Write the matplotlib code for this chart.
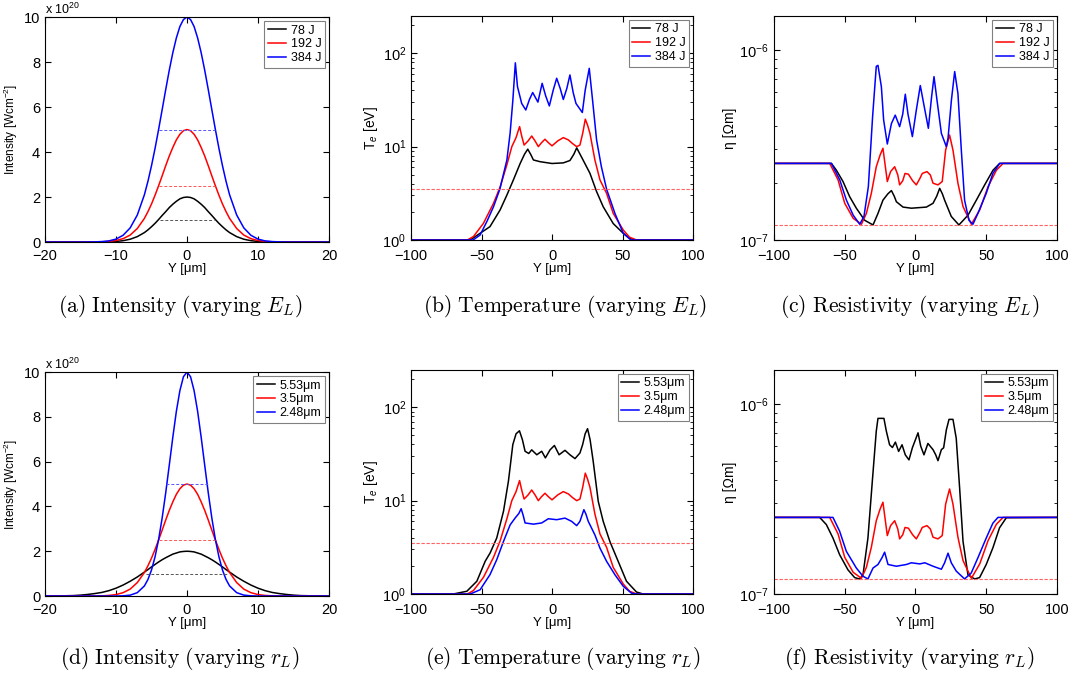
import numpy as np
import matplotlib
matplotlib.use('Agg')
import matplotlib.pyplot as plt
from matplotlib.ticker import LogLocator, NullFormatter

plt.rcParams['font.family'] = ['Liberation Sans', 'DejaVu Sans']
plt.rcParams['mathtext.fontset'] = 'custom'
plt.rcParams['mathtext.rm'] = 'Liberation Sans'
plt.rcParams['mathtext.it'] = 'Liberation Sans:italic'
plt.rcParams['font.size'] = 9

# ---------------- data ----------------
# intensity profiles [1e20 W/cm^2]
y_int = [-20, -19, -18, -17, -16, -15, -14, -13, -12, -11, -10, -9, -8, -7,
         -6, -5.5, -5, -4.5, -4, -3.5, -3, -2.5, -2, -1.5, -1, -0.5, 0, 0.5, 1, 1.5, 2, 2.5, 3, 3.5, 4, 4.5, 5, 5.5, 6,
         7, 8, 9, 10, 11, 12, 13, 14, 15, 16, 17, 18, 19, 20]
I_78J = [0, 0, 0, 0, 0, 0, 0.0004, 0.0013, 0.004, 0.011, 0.026, 0.06, 0.125, 0.24,
         0.42, 0.54, 0.68, 0.83, 1.0, 1.18, 1.35, 1.53, 1.68, 1.81, 1.92, 1.98, 2.0, 1.98, 1.92, 1.81, 1.68, 1.53,
         1.35, 1.18, 1.0, 0.83, 0.68, 0.54, 0.42,
         0.24, 0.125, 0.06, 0.026, 0.011, 0.004, 0.0013, 0.0004, 0, 0, 0, 0, 0, 0]
I_192J = [0, 0, 0, 0, 0, 0, 0.001, 0.003, 0.01, 0.026, 0.066, 0.15, 0.31, 0.60,
          1.05, 1.35, 1.69, 2.08, 2.5, 2.94, 3.39, 3.82, 4.20, 4.54, 4.79, 4.95, 5.0, 4.95, 4.79, 4.54, 4.20, 3.82,
          3.39, 2.94, 2.5, 2.08, 1.69, 1.35, 1.05,
          0.60, 0.31, 0.15, 0.066, 0.026, 0.01, 0.003, 0.001, 0, 0, 0, 0, 0, 0]
I_384J = [0, 0, 0, 0, 0, 0, 0.002, 0.007, 0.02, 0.05, 0.13, 0.30, 0.63, 1.20,
          2.10, 2.70, 3.39, 4.16, 5.0, 5.88, 6.77, 7.63, 8.41, 9.07, 9.58, 9.89, 10.0, 9.89, 9.58, 9.07, 8.41, 7.63,
          6.77, 5.88, 5.0, 4.16, 3.39, 2.70, 2.10,
          1.20, 0.63, 0.30, 0.13, 0.05, 0.02, 0.007, 0.002, 0, 0, 0, 0, 0, 0]
I_553 = [0.002, 0.004, 0.007, 0.013, 0.02, 0.04, 0.07, 0.11, 0.16, 0.24, 0.35, 0.49, 0.66, 0.85,
         1.07, 1.18, 1.30, 1.41, 1.52, 1.62, 1.71, 1.79, 1.87, 1.92, 1.97, 1.99, 2.0, 1.99, 1.97, 1.92, 1.87, 1.79,
         1.71, 1.62, 1.52, 1.41, 1.30, 1.18, 1.07,
         0.85, 0.66, 0.49, 0.35, 0.24, 0.16, 0.11, 0.07, 0.04, 0.02, 0.013, 0.007, 0.004, 0.002]
I_350 = I_192J
I_248 = [0, 0, 0, 0, 0, 0, 0, 0, 0, 0, 0, 0.01, 0.04, 0.15,
         0.45, 0.74, 1.16, 1.75, 2.52, 3.48, 4.60, 5.83, 7.08, 8.24, 9.17, 9.79, 10.0, 9.79, 9.17, 8.24, 7.08, 5.83,
         4.60, 3.48, 2.52, 1.75, 1.16, 0.74, 0.45,
         0.15, 0.04, 0.01, 0, 0, 0, 0, 0, 0, 0, 0, 0, 0, 0]

# half maximum levels and half widths of the dashed markers
hm_a = [1.0, 2.5, 5.0]
hw_a = [3.8, 4.0, 4.0]
hm_d = [1.0, 2.5, 5.0]
hw_d = [5.8, 4.0, 2.9]

# electron temperature [eV]
x_Te_78 = [-100, -58, -51, -44, -36.8, -32, -27.4, -22.6, -19.5, -17.2, -15, -13.2, -8.5, 0, 8, 12.7, 15.5, 17.5,
           19.5, 22, 26.9, 31.6, 36.3, 43.4, 50.5, 55, 59, 100]
Te_78 = [1, 1, 1.18, 1.39, 2.1, 3.03, 4.4, 6.6, 8.3, 9.4, 8.2, 7.2, 6.9, 6.6, 6.7, 7.1, 8.3, 9.7,
         8.5, 7.2, 5.18, 3.3, 2.27, 1.5, 1.18, 1.04, 1, 1]
x_Te_192 = [-100, -60, -55.7, -48.6, -41.5, -36.8, -32, -28.5, -25.5, -23, -21.5, -19.8, -17, -14.4, -12, -9.7, -7.5,
            -5, -2.5, 0, 4, 8, 11.6, 14.5, 17.5, 19.8, 21.8, 23.6, 25.2, 26.9, 30.4, 34, 38.7, 43.4, 50.5, 55, 60, 100]
Te_192 = [1, 1, 1.09, 1.51, 2.47, 3.7, 6.4, 10, 12.5, 16.4, 13, 10.4, 11.5, 13, 11.5, 10, 11,
          12, 11, 10.2, 11.5, 12.5, 11.8, 10.8, 10, 10.4, 14, 19.7, 17, 13.9, 7.2, 4.4, 3.16, 1.93, 1.28, 1.07, 1, 1]
x_Te_384 = [-100, -56, -51, -46, -41.5, -37, -32, -29.7, -27.8, -26, -24.5, -21.5, -18.6, -16, -13.7, -11.5, -10, -7,
            -4.5, -1.9, 0.8, 3.3, 5.8, 8, 10.5, 12.7, 15, 17, 21.5, 23.5, 26.4, 28.8, 31.6, 35, 38.7, 44.6, 50.5, 56, 100]
Te_384 = [1, 1, 1.13, 1.6, 2.27, 3.5, 7.2, 14, 31, 79, 44, 29, 24.7, 32, 38, 33, 30, 47.7,
          35, 27.3, 40, 54, 42, 32, 42, 58.6, 38, 29, 23.2, 40, 69, 31, 11.8, 6.1, 3.5, 1.93, 1.18, 1, 1]
x_Te_553 = [-100, -70, -60.4, -53.3, -47.4, -43.9, -39.2, -34.4, -30.9, -27.8, -25.5, -23.1, -21, -19.1, -16.5, -14.4,
            -10.8, -7.3, -4.7, -1.4, 1.7, 5, 9.2, 12.7, 16.3, 19.8, 21.7, 23.5, 25.2, 27, 29.2, 32.8, 36.3, 41, 46.9,
            52.8, 59.9, 64.6, 100]
Te_553 = [1, 1, 1.07, 1.37, 2.24, 2.75, 3.98, 7.7, 16.2, 39.8, 52, 56, 45, 33.8, 32, 35,
          31, 33.8, 28.7, 35, 39, 31, 34.6, 31, 28.2, 32.4, 39.8, 52, 59, 45, 26.4, 9.8, 6, 3.66, 2.24,
          1.37, 1.05, 1, 1]
x_Te_248 = [-100, -58, -51, -44, -39.2, -34.4, -29.7, -26.2, -23.5, -21.9, -20.5, -19.1, -13.2, -7.3, -2.6, 3.3, 9.2,
            13.9, 17.5, 19.8, 22.6, 24, 25.7, 30.4, 34, 38.7, 44.6, 50.5, 56.4, 60, 100]
Te_248 = [1, 1, 1.11, 1.61, 2.33, 3.66, 5.5, 6.5, 7.3, 8.2, 7, 5.77, 5.6, 5.77, 6.4, 6.25, 6.5,
          6, 5.4, 6, 8, 7.2, 6, 4.3, 3.1, 2.24, 1.61, 1.21, 1.02, 1, 1]
x_Te_350, Te_350 = x_Te_192, Te_192
Te_ref = 3.5

# resistivity [1e-7 Ohm m]
x_eta_78 = [-100, -59.4, -55.9, -51.2, -46.5, -41.8, -35.9, -30, -26.5, -23, -19.5, -17, -15, -13.5, -8.8, -2.9, 7.7,
            12.4, 15, 17.1, 19, 20.6, 25.3, 30.7, 37.1, 43, 48.9, 54.8, 59.5, 100]
eta_78 = [2.53, 2.53, 2.33, 2.03, 1.69, 1.47, 1.27, 1.2, 1.38, 1.62, 1.75, 1.82, 1.7, 1.59, 1.49, 1.47, 1.49,
          1.56, 1.7, 1.87, 1.75, 1.62, 1.33, 1.2, 1.35, 1.62, 1.95, 2.33, 2.53, 2.53]
x_eta_192 = [-100, -60.6, -54.7, -50, -44, -38.2, -34.7, -31.2, -27.7, -25, -23, -21.5, -19.9, -17.6, -14.7, -12.5,
             -11.2, -9, -7.4, -5, -2, 0.6, 3, 4.8, 8.1, 10.5, 12.4, 15.9, 18.9, 21.3, 24.1, 26.5, 30, 33.6, 39.5,
             45.4, 51.3, 57.2, 61.9, 100]
eta_192 = [2.53, 2.53, 2.07, 1.56, 1.3, 1.21, 1.38, 1.76, 2.43, 2.8, 3.04, 2.5, 2.03, 2.29, 2.43, 2.2,
           1.95, 2.05, 2.24, 2.22, 2.05, 1.95, 2.1, 2.24, 2.29, 2.2, 1.99, 1.95, 2.03, 2.97, 3.57, 2.97, 1.99, 1.5, 1.21,
           1.44, 1.91, 2.33, 2.53, 2.53]
x_eta_384 = [-100, -59.4, -53.5, -48.8, -44, -39.4, -36.4, -33.3, -30.3, -27.7, -26.5, -24.1, -22.5, -19.9, -17, -14.3,
             -11.2, -9, -7.2, -5.3, -2.2, 0.6, 3.4, 6.2, 9.1, 11.4, 13.1, 15.2, 18.3, 21.8, 23, 25.4, 27.7, 30, 32.4,
             34.7, 37.8, 40.6, 44.1, 50, 54.7, 59.5, 100]
eta_384 = [2.53, 2.53, 2.07, 1.62, 1.35, 1.21, 1.33, 1.91, 4.46, 8.2, 8.3, 6.4, 4.28, 3.2, 4.1, 4.54,
           3.95, 4.6, 5.85, 4.6, 3.5, 4.83, 6.5, 5.03, 3.87, 5.68, 7.24, 5.45, 3.64, 3.1, 3.43, 5.45, 7.7, 5.9, 2.97,
           1.62, 1.27, 1.21, 1.38, 1.76, 2.24, 2.53, 2.53]
x_eta_553 = [-100, -67.7, -63, -58.3, -53.6, -47.7, -43, -39.5, -37.1, -33.6, -30.5, -27.7, -26.5, -22.3, -20.6, -18.3,
             -16.3, -14.2, -11.9, -9.5, -7.2, -4.6, -2.2, 1.8, 3.7, 6, 8.8, 12.4, 14.3, 15.9, 18.3, 19.9, 21.8, 23.7,
             26.5, 28.8, 31.2, 33.6, 37.1, 41.8, 45.3, 50, 54.7, 59.4, 64.2, 100]
eta_553 = [2.53, 2.53, 2.32, 1.97, 1.61, 1.34, 1.22, 1.2, 1.26, 1.97, 3.92, 7.2, 8.4, 8.4, 7.2, 6.1,
           5.9, 6.3, 5.63, 6.1, 5.4, 5.08, 5.88, 7.05, 6.0, 5.4, 6.2, 5.75, 5.4, 5.03, 5.75, 5.88, 7.3, 8.3,
           8.3, 6.6, 3.61, 1.89, 1.26, 1.2, 1.22, 1.43, 1.75, 2.23, 2.52, 2.53]
x_eta_248 = [-100, -58.3, -53.6, -48.9, -41.8, -37.1, -33.6, -30, -26.5, -23.7, -21.8, -19.4, -13.5, -6.4, -2.9, 3,
             6.6, 12.4, 18.3, 20.6, 23, 25.3, 28.8, 34.7, 39.4, 44.1, 50, 54.7, 58.3, 100]
eta_248 = [2.53, 2.53, 2.14, 1.68, 1.37, 1.24, 1.2, 1.37, 1.43, 1.55, 1.66, 1.43, 1.4, 1.43, 1.46, 1.44,
           1.46, 1.4, 1.35, 1.46, 1.64, 1.46, 1.32, 1.2, 1.29, 1.55, 1.97, 2.36, 2.53, 2.53]
x_eta_350, eta_350 = x_eta_192, eta_192
eta_ref = 1.2

labels_E = ['78 J', '192 J', '384 J']
labels_r = ['5.53\u03bcm', '3.5\u03bcm', '2.48\u03bcm']
colors = ['k', 'r', 'b']
dash_colors = ['#555555', '#ff5555', '#5555ff']
captions = [r'$\mathrm{(a)\ Intensity\ (varying\ }E_L\mathrm{)}$',
            r'$\mathrm{(b)\ Temperature\ (varying\ }E_L\mathrm{)}$',
            r'$\mathrm{(c)\ Resistivity\ (varying\ }E_L\mathrm{)}$',
            r'$\mathrm{(d)\ Intensity\ (varying\ }r_L\mathrm{)}$',
            r'$\mathrm{(e)\ Temperature\ (varying\ }r_L\mathrm{)}$',
            r'$\mathrm{(f)\ Resistivity\ (varying\ }r_L\mathrm{)}$']

# ---------------- figure ----------------
fig = plt.figure(figsize=(10.79, 6.77), dpi=100)
boxes = [[0.0417, 0.6425, 0.2632, 0.3323], [0.3809, 0.6455, 0.2614, 0.3309], [0.7173, 0.6455, 0.2623, 0.3309],
         [0.0417, 0.1196, 0.2632, 0.3309], [0.3809, 0.1226, 0.2614, 0.3309], [0.7173, 0.1226, 0.2623, 0.3309]]
axs = [fig.add_axes(b) for b in boxes]


def style(ax, xpad=5):
    ax.tick_params(which='both', direction='in', top=True, right=True, labelsize=10.5)
    ax.tick_params(axis='x', pad=xpad)
    ax.tick_params(which='major', length=4)
    ax.tick_params(which='minor', length=2)
    for s in ax.spines.values():
        s.set_linewidth(0.8)


def legend(ax, labels):
    leg = ax.legend(labels, loc='upper right', fontsize=9, fancybox=False, framealpha=1, edgecolor='0.5',
                    handlelength=1.4, borderaxespad=0.3, labelspacing=0.15, borderpad=0.3, handletextpad=0.4)
    leg.get_frame().set_linewidth(0.8)


# intensity panels
for ax, curves, hm, hw, labels in [(axs[0], [I_78J, I_192J, I_384J], hm_a, hw_a, labels_E),
                                   (axs[3], [I_553, I_350, I_248], hm_d, hw_d, labels_r)]:
    for c, yv in zip(colors, curves):
        ax.plot(y_int, yv, color=c, lw=1.1)
    legend(ax, labels)
    for c, h, w in zip(dash_colors, hm, hw):
        ax.plot([-w, w], [h, h], color=c, lw=0.7, ls='--', dashes=(3, 2))
    ax.set_xlim(-20, 20)
    ax.set_ylim(0, 10)
    ax.set_xticks([-20, -10, 0, 10, 20])
    ax.set_yticks([0, 2, 4, 6, 8, 10])
    ax.set_ylabel('Intensity [Wcm$^{-2}$]', fontsize=8.5, labelpad=3)
    ax.set_xlabel('Y [\u03bcm]', fontsize=9.5, labelpad=0)
    ax.text(0.0, 1.0, r'x 10$^{20}$', transform=ax.transAxes, ha='left', va='bottom', fontsize=9)
    style(ax)

# temperature panels
for ax, data, labels in [(axs[1], [(x_Te_78, Te_78), (x_Te_192, Te_192), (x_Te_384, Te_384)], labels_E),
                         (axs[4], [(x_Te_553, Te_553), (x_Te_350, Te_350), (x_Te_248, Te_248)], labels_r)]:
    for c, (xv, yv) in zip(colors, data):
        ax.plot(xv, yv, color=c, lw=1.1)
    legend(ax, labels)
    ax.axhline(Te_ref, color='#ff6060', lw=0.8, ls='--', dashes=(3, 1.5))
    ax.set_yscale('log')
    ax.set_xlim(-100, 100)
    ax.set_ylim(1, 251)
    ax.set_xticks([-100, -50, 0, 50, 100])
    ax.yaxis.set_major_locator(LogLocator(base=10, numticks=5))
    ax.yaxis.set_minor_formatter(NullFormatter())
    ax.set_ylabel('T$_{e}$ [eV]', fontsize=10, labelpad=2)
    ax.set_xlabel('Y [\u03bcm]', fontsize=9.5, labelpad=0)
    style(ax, xpad=6.5)

# resistivity panels
for ax, data, labels in [(axs[2], [(x_eta_78, eta_78), (x_eta_192, eta_192), (x_eta_384, eta_384)], labels_E),
                         (axs[5], [(x_eta_553, eta_553), (x_eta_350, eta_350), (x_eta_248, eta_248)], labels_r)]:
    for c, (xv, yv) in zip(colors, data):
        ax.plot(xv, np.array(yv) * 1e-7, color=c, lw=1.1)
    legend(ax, labels)
    ax.axhline(eta_ref * 1e-7, color='#ff6060', lw=0.8, ls='--', dashes=(3, 1.5))
    ax.set_yscale('log')
    ax.set_xlim(-100, 100)
    ax.set_ylim(1e-7, 1.51e-6)
    ax.set_xticks([-100, -50, 0, 50, 100])
    ax.yaxis.set_minor_formatter(NullFormatter())
    ax.set_ylabel('\u03b7 [\u03a9m]', fontsize=10, labelpad=2)
    ax.set_xlabel('Y [\u03bcm]', fontsize=9.5, labelpad=0)
    style(ax, xpad=6.5)

# sub-captions
cap_x = [0.167, 0.524, 0.843, 0.167, 0.522, 0.843]
cap_y = [0.548, 0.548, 0.548, 0.028, 0.028, 0.028]
for x, y, t in zip(cap_x, cap_y, captions):
    fig.text(x, y, t, ha='center', va='center', fontsize=15.5, math_fontfamily='cm')

fig.savefig('out.png', dpi=100)
